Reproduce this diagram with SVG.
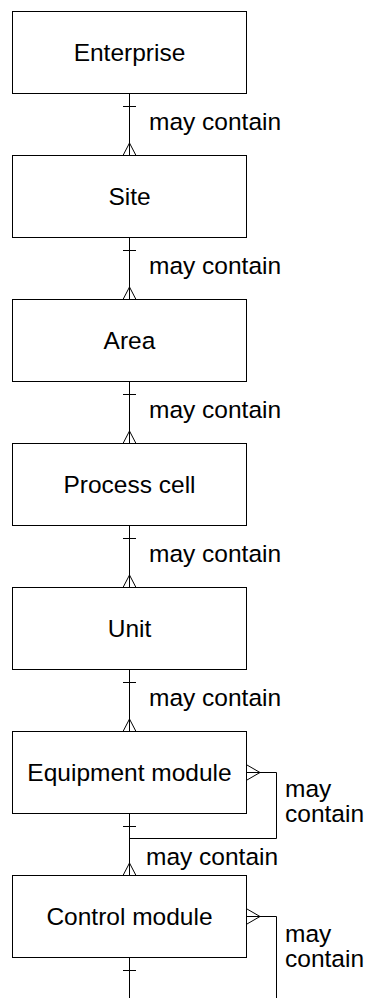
<svg xmlns="http://www.w3.org/2000/svg" width="369" height="998" viewBox="0 0 369 998">
<style>
.box{fill:#fff;stroke:#000;stroke-width:1}
.ln{fill:none;stroke:#000;stroke-width:1}
text{font-family:"Liberation Sans",Arial,sans-serif;font-size:24.5px;fill:#000}
.c{text-anchor:middle}
</style>
<rect width="369" height="998" fill="#fff"/>
<g id="connectors">
<!-- Enterprise -> Site -->
<path class="ln" d="M129.5 93V155M123 106.5H136M123 155.5L129.5 143L136 155.5"/>
<text x="149" y="130">may contain</text>
<!-- Site -> Area -->
<path class="ln" d="M129.5 237V299M123 250.5H136M123 299.5L129.5 287L136 299.5"/>
<text x="149" y="274">may contain</text>
<!-- Area -> Process cell -->
<path class="ln" d="M129.5 381V443M123 394.5H136M123 443.5L129.5 431L136 443.5"/>
<text x="149" y="418">may contain</text>
<!-- Process cell -> Unit -->
<path class="ln" d="M129.5 525V587M123 538.5H136M123 587.5L129.5 575L136 587.5"/>
<text x="149" y="562">may contain</text>
<!-- Unit -> Equipment module -->
<path class="ln" d="M129.5 669V731M123 682.5H136M123 731.5L129.5 719L136 731.5"/>
<text x="149" y="706">may contain</text>
<!-- Equipment module -> Control module -->
<path class="ln" d="M129.5 813V875M123 826.5H136M123 875.5L129.5 863L136 875.5"/>
<text x="146" y="865">may contain</text>
<!-- Equipment module self loop -->
<path class="ln" d="M247 772.5H276.5V838.5H129.5M247 765L260 772.5L247 780"/>
<text x="285" y="797">may</text>
<text x="285" y="822">contain</text>
<!-- Control module down -->
<path class="ln" d="M129.5 957V998M123 970.5H136"/>
<!-- Control module self loop -->
<path class="ln" d="M247 916.5H276.5V998M247 909L260 916.5L247 924"/>
<text x="285" y="942">may</text>
<text x="285" y="967">contain</text>
</g>
<g id="enterprise"><rect class="box" x="12.5" y="11.5" width="234" height="82"/><text class="c" x="129.5" y="61">Enterprise</text></g>
<g id="site"><rect class="box" x="12.5" y="155.5" width="234" height="82"/><text class="c" x="129.5" y="205">Site</text></g>
<g id="area"><rect class="box" x="12.5" y="299.5" width="234" height="82"/><text class="c" x="129.5" y="349">Area</text></g>
<g id="process-cell"><rect class="box" x="12.5" y="443.5" width="234" height="82"/><text class="c" x="129.5" y="493">Process cell</text></g>
<g id="unit"><rect class="box" x="12.5" y="587.5" width="234" height="82"/><text class="c" x="129.5" y="637">Unit</text></g>
<g id="equipment-module"><rect class="box" x="12.5" y="731.5" width="234" height="82"/><text class="c" x="129.5" y="781">Equipment module</text></g>
<g id="control-module"><rect class="box" x="12.5" y="875.5" width="234" height="82"/><text class="c" x="129.5" y="925">Control module</text></g>
</svg>
